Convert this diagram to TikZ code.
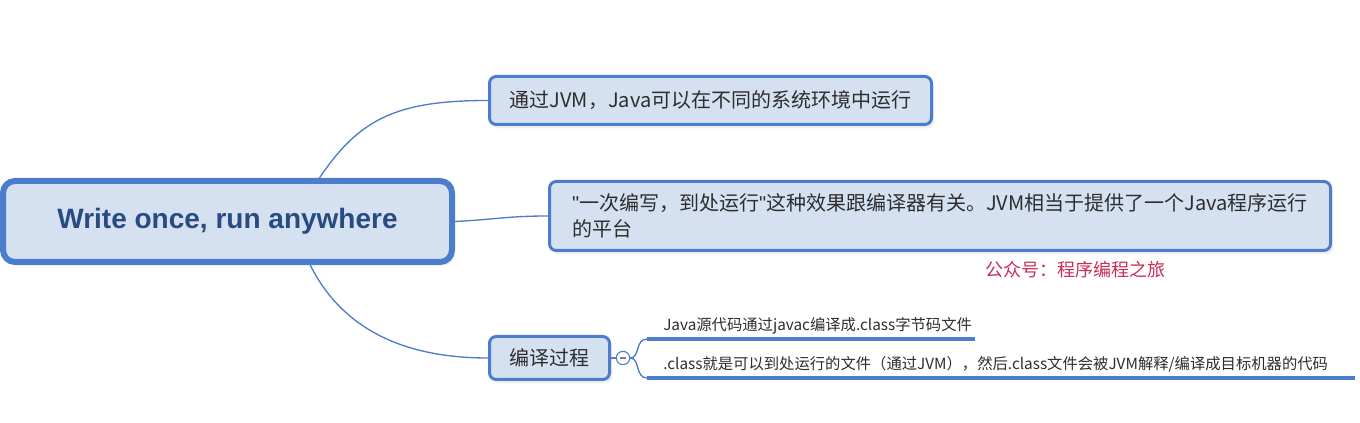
\documentclass[tikz,border=0pt]{standalone}
\usepackage{fontspec}
\setmainfont{Noto Sans CJK SC}
\newfontfamily\rootfont{Liberation Sans}
\usepackage{tikz}
\usetikzlibrary{shadows}

\definecolor{mapblue}{RGB}{76,125,204}
\definecolor{mapfill}{RGB}{213,225,241}
\definecolor{roottext}{RGB}{40,75,130}
\definecolor{nodetext}{RGB}{45,45,45}
\definecolor{markred}{RGB}{200,45,85}

\begin{document}
\begin{tikzpicture}[
  x=0.75pt, y=-0.75pt,
  topic/.style={
    draw=mapblue,
    fill=mapfill,
    rounded corners=5pt,
    line width=2.25pt,
    text=nodetext,
    font=\fontsize{15}{20}\selectfont,
    drop shadow={opacity=0.12, shadow xshift=2pt, shadow yshift=-3pt}
  },
  leaf/.style={anchor=base west, inner sep=0pt, text=nodetext,
    font=\fontsize{11.5}{14}\selectfont},
  link/.style={draw=mapblue, line width=1pt},
  stem/.style={draw=mapblue, line width=3pt}
]
\useasboundingbox (0,0) rectangle (1360,423);

% Root
\node[topic, line width=4.5pt, rounded corners=9pt, minimum width=336.75pt,
  minimum height=60.75pt, text=roottext,
  font=\rootfont\bfseries\fontsize{21}{24}\selectfont] (root) at (227.5,221.5)
  {Write once, run anywhere};

% Topics
\node[topic, minimum width=331.5pt, minimum height=36pt] (jvm) at (710.5,100.5)
  {通过JVM，Java可以在不同的系统环境中运行};

\node[topic, align=left, minimum width=585.75pt, minimum height=51.75pt] (once) at (940,216)
  {{\rootfont"}一次编写，到处运行{\rootfont"}这种效果跟编译器有关。JVM相当于提供了一个Java程序运行\\的平台};

\node[topic, minimum width=90pt, minimum height=32.25pt] (compile) at (549.5,358)
  {编译过程};

% Watermark
\node[anchor=base west, inner sep=0pt, text=markred, font=\fontsize{13.5}{16}\selectfont]
  (mark) at (985,277) {公众号：程序编程之旅};

% Arrows from root
\draw[link] ([xshift=69pt]root.north) .. controls +(40,-60) and +(-90,0) .. (jvm.west);
\draw[link] (root.east) .. controls +(40,-2) and +(-40,0) .. (once.west);
\draw[link] ([xshift=62pt]root.south) .. controls +(30,60) and +(-90,0) .. (compile.west);

% Sub-branches of compile
\node[circle, draw=mapblue, fill=white, line width=0.8pt, minimum size=10pt, inner sep=0pt]
  (fold) at (623,358) {};
\draw[gray, line width=0.8pt] ([xshift=-2.5pt]fold.center) -- ([xshift=2.5pt]fold.center);
\draw[link] (compile.east) -- (fold.west);

\coordinate (forkA) at (647,339);
\coordinate (tipA) at (975,339);
\coordinate (forkB) at (647,378);
\coordinate (tipB) at (1355,378);

\draw[link] (fold.east) .. controls +(10,0) and +(-12,0) .. (forkA);
\draw[link] (fold.east) .. controls +(10,0) and +(-12,0) .. (forkB);
\draw[stem] (forkA) -- (tipA);
\draw[stem] (forkB) -- (tipB);

\node[leaf] (leafA) at ([shift={(16,-8)}]forkA)
  {Java源代码通过javac编译成.class字节码文件};
\node[leaf] (leafB) at ([shift={(16,-8)}]forkB)
  {.class就是可以到处运行的文件（通过JVM），然后.class文件会被JVM解释/编译成目标机器的代码};

\end{tikzpicture}
\end{document}
